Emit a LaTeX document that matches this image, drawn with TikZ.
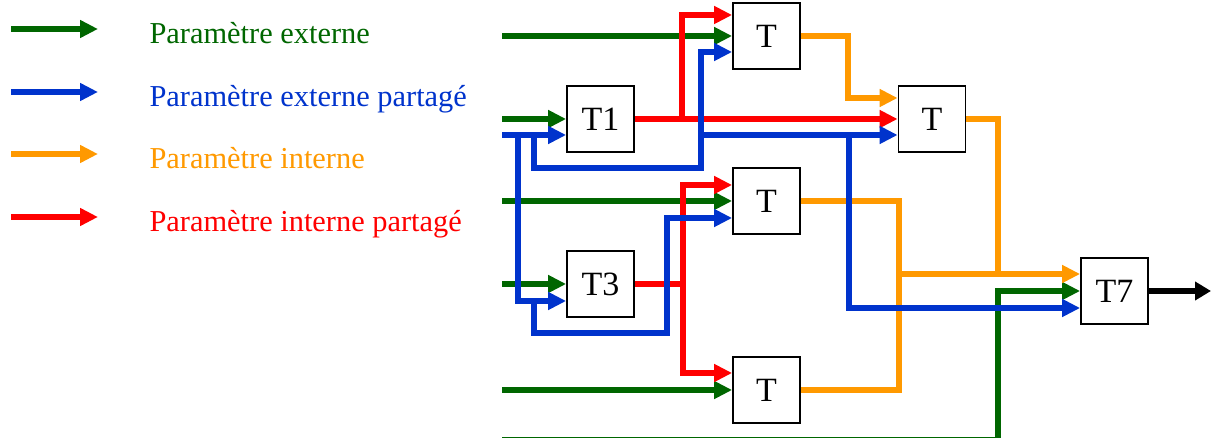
\documentclass[tikz,border=0pt]{standalone}
\usepackage{fontspec}
\setmainfont{Liberation Serif}
\usetikzlibrary{arrows.meta,calc}
\definecolor{cg}{RGB}{0,102,0}
\definecolor{cb}{RGB}{0,51,204}
\definecolor{co}{RGB}{255,153,0}
\definecolor{cr}{RGB}{255,0,0}
\begin{document}
\begin{tikzpicture}[x=1pt,y=-1pt,
  box/.style={draw, line width=1.8pt, minimum width=67pt, minimum height=66pt, inner sep=0pt, font=\fontsize{34}{40}\selectfont},
  wire/.style={line width=6pt},
  arr/.style={wire, -{Triangle[length=18pt,width=17pt]}},
  leg/.style={anchor=base west, font=\fontsize{30.4}{36}\selectfont}]
\useasboundingbox (0,0) rectangle (1211,438);
\clip (0,0) rectangle (1211,438);

% legend
\coordinate (l1a) at (11,29);  \coordinate (l1b) at (98,29);
\coordinate (l2a) at (11,92);  \coordinate (l2b) at (98,92);
\coordinate (l3a) at (11,154); \coordinate (l3b) at (98,154);
\coordinate (l4a) at (11,217); \coordinate (l4b) at (98,217);
\draw[arr,cg] (l1a) -- (l1b);
\draw[arr,cb] (l2a) -- (l2b);
\draw[arr,co] (l3a) -- (l3b);
\draw[arr,cr] (l4a) -- (l4b);
\node[leg,text=cg] (t1) at (146,44) {Paramètre externe};
\node[leg,text=cb] (t2) at (146,106.5) {Paramètre externe partagé};
\node[leg,text=co] (t3) at (146,169) {Paramètre interne};
\node[leg,text=cr] (t4) at (146,231.5) {Paramètre interne partagé};

% boxes
\node[box] (T1) at (600.5,119) {T1};
\node[box] (Ta) at (766.5,36) {T};
\node[box] (Tb) at (932,119) {T};
\node[box] (Tc) at (766.5,201) {T};
\node[box] (T3) at (600.5,284) {T3};
\node[box] (Td) at (766.5,390) {T};
\node[box] (T7) at (1114.5,291) {T7};

% green (external parameters)
\coordinate (gA) at (502,36);
\coordinate (gT1) at (502,119);
\coordinate (gC) at (502,201);
\coordinate (g3) at (502,284);
\coordinate (gD) at (502,390);
\coordinate (gB) at (502,439.5);
\coordinate (gBk) at (998,439.5);
\draw[arr,cg] (gA) -- (Ta.west);
\draw[arr,cg] (gT1) -- (T1.west);
\draw[arr,cg] (gC) -- (Tc.west);
\draw[arr,cg] (g3) -- (T3.west);
\draw[arr,cg] (gD) -- (Td.west);
\draw[arr,cg] (gB) -- (gBk) |- (T7.west);

% orange (internal parameters)
\coordinate (oa) at (848,0);
\coordinate (ob) at (998,0);
\coordinate (oc) at (899,0);
\coordinate (o7) at ([yshift=17pt]T7.west);
\draw[arr,co] (Ta.east) -- (Ta.east -| oa) |- ([yshift=21pt]Tb.west);
\draw[wire,co] (Tb.east) -| (ob |- o7);
\draw[arr,co] (Tc.east) -| (oc |- o7) -- (o7);
\draw[wire,co] (Td.east) -| (oc |- o7);

% red (shared internal parameters)
\coordinate (r1) at (682,119);
\coordinate (r3) at (683,284);
\draw[arr,cr] (T1.east) -- (Tb.west);
\draw[arr,cr] (r1) |- ([yshift=21pt]Ta.west);
\draw[wire,cr] (T3.east) -- (r3);
\draw[arr,cr] (r3) |- ([yshift=16pt]Tc.west);
\draw[arr,cr] (r3) |- ([yshift=17pt]Td.west);

% blue (shared external parameters)
\coordinate (bS) at (502,135);
\coordinate (b1) at (518,135);
\coordinate (b2) at (534,135);
\coordinate (b2k) at (534,168);
\coordinate (b2m) at (701,168);
\coordinate (b4) at (701,135);
\coordinate (b5) at (849,135);
\coordinate (b3) at (534,301);
\coordinate (b3k) at (534,333);
\coordinate (b3m) at (667,333);
\draw[arr,cb] (bS) -- ([yshift=-16pt]T1.west);
\draw[arr,cb] (b1) |- ([yshift=-17pt]T3.west);
\draw[arr,cb] (b2) -- (b2k) -- (b2m) |- ([yshift=-16pt]Ta.west);
\draw[arr,cb] (b4) -- ([yshift=-16pt]Tb.west);
\draw[arr,cb] (b5) |- ([yshift=-17pt]T7.west);
\draw[arr,cb] (b3) -- (b3k) -- (b3m) |- ([yshift=-17pt]Tc.west);

% output
\coordinate (out) at (1211,291);
\draw[line width=6pt,-{Triangle[length=16pt,width=18pt]}] (T7.east) -- (out);
\end{tikzpicture}
\end{document}
